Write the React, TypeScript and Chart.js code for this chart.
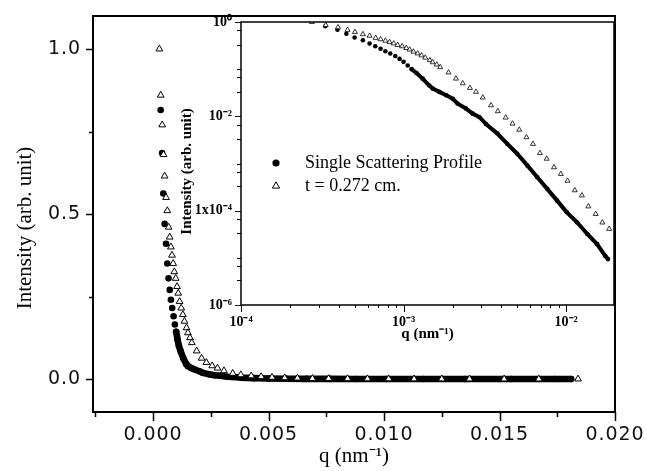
import React, { useEffect, useRef } from 'react';
import { Chart, registerables } from 'chart.js';

Chart.register(...registerables);

// ---------- data (q in nm^-1, intensity in arb. unit) ----------
// Single Scattering Profile (filled circles)
const qSingle = [3.3e-4, 3.92e-4, 4.45e-4, 5.0e-4, 5.62e-4, 6.18e-4, 6.7e-4, 7.22e-4, 7.73e-4, 8.28e-4, 8.89e-4, 9.45e-4, 1.0e-3, 1.06e-3, 1.12e-3, 1.2e-3, 1.31e-3, 1.44e-3, 1.51e-3, 1.66e-3, 1.83e-3, 2.01e-3, 2.15e-3, 2.42e-3, 2.66e-3, 2.92e-3, 3.21e-3, 3.78e-3, 4.35e-3, 5.0e-3, 5.77e-3, 6.65e-3, 7.65e-3, 8.8e-3, 1.01e-2, 1.17e-2, 1.35e-2, 1.55e-2, 1.74e-2, 1.81e-2];
const iSingle = [0.815, 0.685, 0.562, 0.47, 0.41, 0.35, 0.305, 0.27, 0.24, 0.215, 0.19, 0.165, 0.143, 0.12, 0.1, 0.083, 0.063, 0.045, 0.039, 0.033, 0.028, 0.0235, 0.0186, 0.0146, 0.0114, 0.0097, 0.0069, 0.0043, 0.0026, 0.00161, 9.1e-4, 5.1e-4, 2.9e-4, 1.63e-4, 9.2e-5, 5.6e-5, 3.2e-5, 1.95e-5, 1.1e-5, 9.4e-6];
// index from which the single-scattering points are so dense they merge into a band
const SINGLE_DENSE_FROM = 12;

// t = 0.272 cm (open triangles)
const qThick = [2.73e-4, 3.32e-4, 3.95e-4, 4.52e-4, 5.02e-4, 5.62e-4, 6.18e-4, 6.73e-4, 7.22e-4, 7.73e-4, 8.2e-4, 8.7e-4, 9.2e-4, 9.8e-4, 1.04e-3, 1.09e-3, 1.15e-3, 1.22e-3, 1.29e-3, 1.36e-3, 1.45e-3, 1.51e-3, 1.6e-3, 1.68e-3, 1.89e-3, 2.1e-3, 2.31e-3, 2.56e-3, 2.79e-3, 3.07e-3, 3.45e-3, 3.8e-3, 4.25e-3, 4.68e-3, 5.15e-3, 5.7e-3, 6.25e-3, 6.9e-3, 7.6e-3, 8.42e-3, 9.28e-3, 1.02e-2, 1.13e-2, 1.25e-2, 1.37e-2, 1.52e-2, 1.67e-2, 1.84e-2];
const iThick = [1.0, 0.86, 0.77, 0.68, 0.615, 0.55, 0.51, 0.46, 0.43, 0.4, 0.375, 0.35, 0.325, 0.305, 0.28, 0.26, 0.235, 0.215, 0.195, 0.175, 0.155, 0.14, 0.125, 0.11, 0.085, 0.063, 0.05, 0.04, 0.033, 0.025, 0.0171, 0.0128, 0.0094, 0.007, 0.0052, 0.0036, 0.0026, 0.00166, 0.00126, 8.3e-4, 6.0e-4, 4.3e-4, 2.7e-4, 2.1e-4, 1.23e-4, 8.5e-5, 5.6e-5, 4.1e-5];

const legendLabels = ['Single Scattering Profile', 't = 0.272 cm.'];

// ---------- ticks ----------
const mainXTicks = [0, 0.005, 0.01, 0.015, 0.02];
const mainXMinor = [-0.0025, 0.0025, 0.0075, 0.0125, 0.0175];
const mainYTicks = [0, 0.5, 1.0];
const mainYMinor = [0.25, 0.75];
const mainXTitle = 'q (nm⁻¹)';
const mainYTitle = 'Intensity (arb. unit)';

const insetXTicks = [1e-4, 1e-3, 1e-2];
const insetXLabels = ['10⁻⁴', '10⁻³', '10⁻²'];
const insetXMinor = [2e-4, 3e-4, 4e-4, 5e-4, 6e-4, 7e-4, 8e-4, 9e-4, 2e-3, 3e-3, 4e-3, 5e-3, 6e-3, 7e-3, 8e-3, 9e-3];
const insetYTicks = [1e-6, 1e-4, 1e-2, 1];
const insetYLabels = ['10⁻⁶', '1x10⁻⁴', '10⁻²', '10⁰'];
const insetYMinor = [6.67e-1, 3.33e-1, 1e-1, 6.67e-2, 3.33e-2, 6.67e-3, 3.33e-3, 1e-3, 6.67e-4, 3.33e-4, 6.67e-5, 3.33e-5, 1e-5, 6.67e-6, 3.33e-6];
const insetXTitle = 'q (nm⁻¹)';
const insetYTitle = 'Intensity (arb. unit)';

const pts = (xs: number[], ys: number[], from = 0) =>
  xs.slice(from).map((x, i) => ({ x, y: ys[i + from] }));

type TickSet = { axis: 'x' | 'y'; values: number[]; len: number };

function framePlugin(id: string, lineWidth: number, sets: TickSet[]) {
  return {
    id,
    afterDraw(chart: any) {
      const { ctx, chartArea: a } = chart;
      ctx.save();
      ctx.strokeStyle = '#000';
      ctx.lineWidth = lineWidth;
      ctx.strokeRect(a.left, a.top, a.right - a.left, a.bottom - a.top);
      ctx.lineWidth = Math.max(1, lineWidth - 0.5);
      ctx.beginPath();
      for (const s of sets) {
        const sc = chart.scales[s.axis];
        for (const v of s.values) {
          const p = Math.round(sc.getPixelForValue(v)) + 0.5;
          if (s.axis === 'x') {
            ctx.moveTo(p, a.bottom);
            ctx.lineTo(p, a.bottom + s.len);
          } else {
            ctx.moveTo(a.left, p);
            ctx.lineTo(a.left - s.len, p);
          }
        }
      }
      ctx.stroke();
      ctx.restore();
    },
  };
}

const zeroPad = (s: any) => {
  s.paddingTop = 0;
  s.paddingBottom = 0;
  s.paddingLeft = 0;
  s.paddingRight = 0;
};

const wideDigits = {
  id: 'wideDigits',
  beforeDraw(chart: any) {
    chart.ctx.letterSpacing = '0.9px';
  },
};

const insetLegend = {
  id: 'insetLegend',
  afterDraw(chart: any) {
    const { ctx, chartArea: a } = chart;
    const mx = a.left + 35;
    const tx = a.left + 64;
    const y1 = 163;
    const y2 = 186;
    ctx.save();
    ctx.fillStyle = '#000';
    ctx.beginPath();
    ctx.arc(mx, y1, 3.6, 0, Math.PI * 2);
    ctx.fill();
    const r = 4.2;
    ctx.beginPath();
    ctx.moveTo(mx, y2 - r);
    ctx.lineTo(mx + r * Math.sin((2 * Math.PI) / 3), y2 - r * Math.cos((2 * Math.PI) / 3));
    ctx.lineTo(mx + r * Math.sin((4 * Math.PI) / 3), y2 - r * Math.cos((4 * Math.PI) / 3));
    ctx.closePath();
    ctx.lineWidth = 1;
    ctx.strokeStyle = '#000';
    ctx.stroke();
    ctx.font = '18px "Liberation Serif", "Times New Roman", serif';
    ctx.textAlign = 'left';
    ctx.textBaseline = 'middle';
    ctx.fillText(legendLabels[0], tx, y1);
    ctx.fillText(legendLabels[1], tx, y2);
    ctx.restore();
  },
};

function MainChart() {
  const ref = useRef<HTMLCanvasElement>(null);
  useEffect(() => {
    const chart = new Chart(ref.current as HTMLCanvasElement, {
      type: 'scatter',
      data: {
        datasets: [
          {
            label: legendLabels[1],
            data: pts(qThick, iThick),
            pointStyle: 'triangle',
            pointRadius: 3.9,
            pointBackgroundColor: '#fff',
            pointBorderColor: '#000',
            pointBorderWidth: 1,
            showLine: false,
          },
          {
            label: legendLabels[0],
            data: pts(qSingle, iSingle),
            pointStyle: 'circle',
            pointRadius: 3.3,
            pointBackgroundColor: '#000',
            pointBorderColor: '#000',
            pointBorderWidth: 0,
            showLine: false,
          },
          {
            label: legendLabels[0] + ' (dense)',
            data: pts(qSingle, iSingle, SINGLE_DENSE_FROM),
            pointRadius: 0,
            showLine: true,
            borderColor: '#000',
            borderWidth: 6.6,
            borderCapStyle: 'round',
            borderJoinStyle: 'round',
            tension: 0,
          } as any,
        ],
      },
      options: {
        responsive: false,
        animation: false,
        devicePixelRatio: 1,
        layout: { padding: { left: 0, top: 16, right: 32, bottom: 0 } },
        plugins: { legend: { display: false }, tooltip: { enabled: false } },
        scales: {
          x: {
            type: 'linear',
            min: -0.0026,
            max: 0.02,
            afterBuildTicks: (s: any) => {
              s.ticks = mainXTicks.map((v) => ({ value: v }));
            },
            afterFit: (s: any) => {
              s.height = 59;
              zeroPad(s);
            },
            grid: { display: false, drawTicks: false },
            border: { display: false },
            ticks: {
              callback: (v: any) => Number(v).toFixed(3),
              font: { family: '"DejaVu Sans", sans-serif', size: 19 },
              color: '#111',
              padding: 12,
              maxRotation: 0,
              autoSkip: false,
            },
          },
          y: {
            type: 'linear',
            min: -0.1,
            max: 1.1,
            afterBuildTicks: (s: any) => {
              s.ticks = mainYTicks.map((v) => ({ value: v }));
            },
            afterFit: (s: any) => {
              s.width = 93;
              zeroPad(s);
            },
            grid: { display: false, drawTicks: false },
            border: { display: false },
            ticks: {
              callback: (v: any) => Number(v).toFixed(1),
              font: { family: '"DejaVu Sans", sans-serif', size: 19 },
              color: '#111',
              padding: 12,
              autoSkip: false,
            },
          },
        },
      },
      plugins: [
        wideDigits,
        framePlugin('mainFrame', 2, [
          { axis: 'x', values: mainXTicks, len: 9 },
          { axis: 'x', values: mainXMinor, len: 5 },
          { axis: 'y', values: mainYTicks, len: 7 },
          { axis: 'y', values: mainYMinor, len: 4 },
        ]),
        {
          id: 'mainTitles',
          afterDraw(chart: any) {
            const { ctx, chartArea: a } = chart;
            ctx.save();
            ctx.letterSpacing = '0px';
            ctx.fillStyle = '#000';
            ctx.font = '21px "Liberation Serif", "Times New Roman", serif';
            ctx.textAlign = 'center';
            ctx.textBaseline = 'middle';
            ctx.fillText(mainXTitle, (a.left + a.right) / 2, 456);
            ctx.translate(25, (a.top + a.bottom) / 2 + 14);
            ctx.rotate(-Math.PI / 2);
            ctx.fillText(mainYTitle, 0, 0);
            ctx.restore();
          },
        },
      ],
    } as any);
    return () => chart.destroy();
  }, []);
  return (
    <canvas
      ref={ref}
      width={647}
      height={471}
      style={{ position: 'absolute', left: 0, top: 0, width: 647, height: 471 }}
    />
  );
}

function InsetChart() {
  const ref = useRef<HTMLCanvasElement>(null);
  useEffect(() => {
    const chart = new Chart(ref.current as HTMLCanvasElement, {
      type: 'scatter',
      data: {
        datasets: [
          {
            label: legendLabels[1],
            data: pts(qThick, iThick),
            pointStyle: 'triangle',
            pointRadius: 2.9,
            pointBackgroundColor: '#fff',
            pointBorderColor: '#000',
            pointBorderWidth: 0.8,
            showLine: false,
          },
          {
            label: legendLabels[0],
            data: pts(qSingle, iSingle),
            pointStyle: 'circle',
            pointRadius: 2.3,
            pointBackgroundColor: '#000',
            pointBorderColor: '#000',
            pointBorderWidth: 0,
            showLine: false,
          },
          {
            label: legendLabels[0] + ' (dense)',
            data: pts(qSingle, iSingle, SINGLE_DENSE_FROM + 2),
            pointRadius: 0,
            showLine: true,
            borderColor: '#000',
            borderWidth: 4,
            borderCapStyle: 'round',
            borderJoinStyle: 'round',
            tension: 0,
          } as any,
        ],
      },
      options: {
        responsive: false,
        animation: false,
        devicePixelRatio: 1,
        layout: { padding: { left: 0, top: 22, right: 33, bottom: 0 } },
        plugins: { legend: { display: false }, tooltip: { enabled: false } },
        scales: {
          x: {
            type: 'logarithmic',
            min: 1e-4,
            max: 0.0197,
            afterBuildTicks: (s: any) => {
              s.ticks = insetXTicks.map((v) => ({ value: v }));
            },
            afterFit: (s: any) => {
              s.height = 40;
              zeroPad(s);
            },
            grid: { display: false, drawTicks: false },
            border: { display: false },
            ticks: {
              callback: (_v: any, i: number) => insetXLabels[i],
              font: { family: '"Liberation Serif", "Times New Roman", serif', size: 14, weight: 'bold' },
              color: '#000',
              padding: 9,
              maxRotation: 0,
              autoSkip: false,
            },
          },
          y: {
            type: 'logarithmic',
            min: 1e-6,
            max: 1,
            afterBuildTicks: (s: any) => {
              s.ticks = insetYTicks.map((v) => ({ value: v }));
            },
            afterFit: (s: any) => {
              s.width = 81;
              zeroPad(s);
            },
            grid: { display: false, drawTicks: false },
            border: { display: false },
            ticks: {
              callback: (_v: any, i: number) => insetYLabels[i],
              font: { family: '"Liberation Serif", "Times New Roman", serif', size: 14, weight: 'bold' },
              color: '#000',
              padding: 9,
              autoSkip: false,
            },
          },
        },
      },
      plugins: [
        framePlugin('insetFrame', 1.5, [
          { axis: 'x', values: insetXTicks, len: 7 },
          { axis: 'x', values: insetXMinor, len: 3 },
          { axis: 'y', values: insetYTicks, len: 6 },
          { axis: 'y', values: insetYMinor, len: 4 },
        ]),
        insetLegend,
        {
          id: 'insetTitles',
          afterDraw(chart: any) {
            const { ctx, chartArea: a } = chart;
            ctx.save();
            ctx.fillStyle = '#000';
            ctx.font = 'bold 15px "Liberation Serif", "Times New Roman", serif';
            ctx.textAlign = 'center';
            ctx.textBaseline = 'middle';
            ctx.fillText(insetXTitle, (a.left + a.right) / 2, a.bottom + 29);
            ctx.translate(a.left - 54, (a.top + a.bottom) / 2 + 8);
            ctx.rotate(-Math.PI / 2);
            ctx.fillText(insetYTitle, 0, 0);
            ctx.restore();
          },
        },
      ],
    } as any);
    return () => chart.destroy();
  }, []);
  return (
    <canvas
      ref={ref}
      width={487}
      height={345}
      style={{ position: 'absolute', left: 160, top: 0, width: 487, height: 345 }}
    />
  );
}

export default function App() {
  return (
    <div
      style={{
        position: 'absolute',
        left: 0,
        top: 0,
        width: 647,
        height: 471,
        background: '#fff',
        overflow: 'hidden',
      }}
    >
      <MainChart />
      <InsetChart />
    </div>
  );
}
